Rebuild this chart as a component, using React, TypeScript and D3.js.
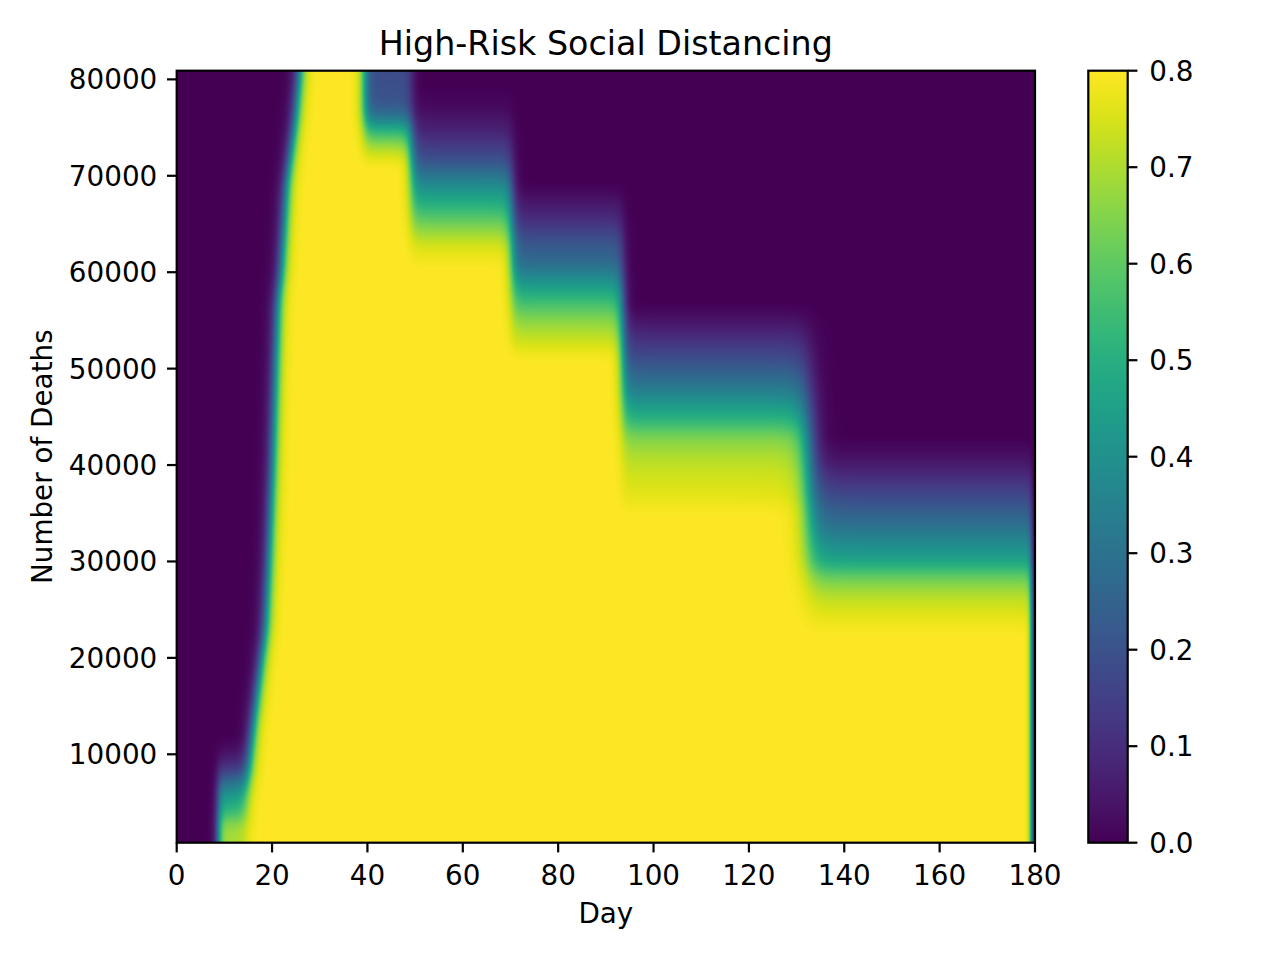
import { useMemo } from 'react'
import * as d3 from 'd3'

// axis ticks
const dayTicks = [0, 20, 40, 60, 80, 100, 120, 140, 160, 180]
const deathTicks = [10000, 20000, 30000, 40000, 50000, 60000, 70000, 80000]
const levelTicks = [0, 0.1, 0.2, 0.3, 0.4, 0.5, 0.6, 0.7, 0.8]

const dayDomain = [0, 180]
const deathDomain = [830, 80900]
const levelDomain = [0, 0.8]

// day at which distancing switches on, as a function of deaths threshold
const onsetDeaths = [800, 5000, 8000, 10000, 12500, 20000, 23000, 30000, 40000, 50000, 57000, 60000, 69000, 76000, 81000]
const onsetDays = [14.6, 14.6, 15.2, 15.5, 16.0, 17.9, 18.7, 19.4, 20.2, 20.8, 21.3, 22.0, 23.1, 25.0, 25.9]

// early partial distancing at low thresholds
const earlyStartDay = 8.7
const earlyDeaths = [800, 2500, 4000, 5400, 6800, 8300, 9800, 11500]
const earlyLevels = [0.7, 0.68, 0.54, 0.45, 0.33, 0.15, 0.05, 0]

// day where each relaxation step begins; last value is the end of the run
const stepDays = [39.3, 49.2, 70.3, 93.5, 132.5, 179.2]

// level vs deaths threshold inside each step
const step0Deaths = [800, 80900]
const step0Levels = [0.8, 0.8]
const step1Deaths = [71000, 72000, 73400, 75000, 76000, 77500, 81000]
const step1Levels = [0.8, 0.76, 0.66, 0.48, 0.32, 0.21, 0.18]
const step2Deaths = [60500, 62600, 64700, 67100, 68800, 71600, 74500, 77000, 79000]
const step2Levels = [0.8, 0.76, 0.65, 0.5, 0.4, 0.2, 0.08, 0.02, 0]
const step3Deaths = [51000, 52300, 54000, 55400, 57100, 58900, 60900, 63300, 65500, 67500, 69000]
const step3Levels = [0.8, 0.76, 0.7, 0.64, 0.54, 0.42, 0.28, 0.2, 0.1, 0.04, 0]
const step4Deaths = [35000, 36700, 39200, 41200, 43000, 44400, 45700, 47100, 48500, 50700, 53000, 54700, 56500]
const step4Levels = [0.8, 0.77, 0.74, 0.7, 0.64, 0.54, 0.46, 0.38, 0.3, 0.2, 0.11, 0.05, 0]
const step5Deaths = [22500, 24300, 26000, 27800, 28800, 30100, 31500, 33600, 35700, 37400, 38800, 40500, 42600]
const step5Levels = [0.8, 0.77, 0.73, 0.65, 0.58, 0.46, 0.4, 0.3, 0.22, 0.15, 0.1, 0.04, 0]

const W = 1280
const H = 960
const plot = { left: 176.7, right: 1035, top: 70.7, bottom: 842.7 }
const cbar = { left: 1088.3, right: 1127.7 }
const FONT = 'DejaVu Sans, sans-serif'
const tickSize = 27.8

const sigmoid = (t: number) => 1 / (1 + Math.exp(-t))

// box smoothing along rows, to soften the kinks between read-off points
function smooth(arr: Float32Array, r: number) {
  const out = new Float32Array(arr.length)
  for (let j = 0; j < arr.length; j++) {
    let s = 0
    let n = 0
    for (let k = j - r; k <= j + r; k++) {
      const kk = Math.max(0, Math.min(arr.length - 1, k))
      s += arr[kk]
      n++
    }
    out[j] = s / n
  }
  return out
}

export default function App() {
  const x = d3.scaleLinear().domain(dayDomain).range([plot.left, plot.right])
  const y = d3.scaleLinear().domain(deathDomain).range([plot.bottom, plot.top])
  const cy = d3.scaleLinear().domain(levelDomain).range([plot.bottom, plot.top])

  const heatmap = useMemo(() => {
    const w = Math.round(plot.right - plot.left)
    const h = Math.round(plot.bottom - plot.top)
    const canvas = document.createElement('canvas')
    canvas.width = w
    canvas.height = h
    const ctx = canvas.getContext('2d')!
    const img = ctx.createImageData(w, h)

    const lut = d3.range(256).map(k => d3.rgb(d3.interpolateViridis(k / 255)))
    const onset = d3.scaleLinear().domain(onsetDeaths).range(onsetDays).clamp(true)
    const early = d3.scaleLinear().domain(earlyDeaths).range(earlyLevels).clamp(true)
    const steps = [
      [step0Deaths, step0Levels],
      [step1Deaths, step1Levels],
      [step2Deaths, step2Levels],
      [step3Deaths, step3Levels],
      [step4Deaths, step4Levels],
      [step5Deaths, step5Levels]
    ].map(([d, l]) => d3.scaleLinear().domain(d).range(l).clamp(true))
    const edgeSoft = [0.6, 0.6, 0.6, 0.6, 1.2, 0.3]

    // per column step weights
    const colDay = new Float32Array(w)
    const colW = Array.from({ length: steps.length }, () => new Float32Array(w))
    const colEarly = new Float32Array(w)
    for (let i = 0; i < w; i++) {
      const day = x.invert(plot.left + i + 0.5)
      colDay[i] = day
      const c = stepDays.map((e, k) => sigmoid((day - e) / edgeSoft[k]))
      colW[0][i] = 1 - c[0]
      for (let b = 1; b < steps.length; b++) colW[b][i] = c[b - 1] - c[b]
      colEarly[i] = sigmoid((day - earlyStartDay) / 0.45)
    }

    // per row profiles
    const rowDeaths = Array.from({ length: h }, (_, j) => y.invert(plot.top + j + 0.5))
    const rowProf = steps.map(s => smooth(Float32Array.from(rowDeaths, d => s(d)), 8))
    const rowOnset = smooth(Float32Array.from(rowDeaths, d => onset(d)), 12)
    const rowEarly = smooth(Float32Array.from(rowDeaths, d => early(d)), 8)

    for (let j = 0; j < h; j++) {
      const on = rowOnset[j]
      const ev = rowEarly[j]
      for (let i = 0; i < w; i++) {
        const a = sigmoid((colDay[i] - on) / 0.7)
        let bv = 0
        for (let b = 0; b < rowProf.length; b++) bv += rowProf[b][j] * colW[b][i]
        const v = a * bv + Math.max(0, colEarly[i] - a) * ev
        const k = Math.max(0, Math.min(255, Math.round((v / 0.8) * 255)))
        const c = lut[k]
        const p = (j * w + i) * 4
        img.data[p] = c.r
        img.data[p + 1] = c.g
        img.data[p + 2] = c.b
        img.data[p + 3] = 255
      }
    }
    ctx.putImageData(img, 0, 0)
    return canvas.toDataURL()
  }, [])

  const gradStops = d3.range(0, 1.0001, 1 / 32)

  return (
    <svg
      width={W}
      height={H}
      style={{ position: 'absolute', left: 0, top: 0, background: '#fff' }}
      fontFamily={FONT}
    >
      <defs>
        <linearGradient id="viridis" x1="0" y1="1" x2="0" y2="0">
          {gradStops.map(t => (
            <stop key={t} offset={t} stopColor={d3.interpolateViridis(t)} />
          ))}
        </linearGradient>
      </defs>

      <image
        href={heatmap}
        x={plot.left}
        y={plot.top}
        width={plot.right - plot.left}
        height={plot.bottom - plot.top}
        preserveAspectRatio="none"
      />
      <rect
        x={plot.left}
        y={plot.top}
        width={plot.right - plot.left}
        height={plot.bottom - plot.top}
        fill="none"
        stroke="#000"
        strokeWidth={2.2}
      />

      {/* x axis */}
      {dayTicks.map(t => (
        <g key={t} transform={`translate(${x(t)},${plot.bottom})`}>
          <line y2={9.7} stroke="#000" strokeWidth={2.2} />
          <text y={42.3} textAnchor="middle" fontSize={tickSize}>{t}</text>
        </g>
      ))}
      <text x={(plot.left + plot.right) / 2} y={923} textAnchor="middle" fontSize={tickSize}>Day</text>

      {/* y axis */}
      {deathTicks.map(t => (
        <g key={t} transform={`translate(${plot.left},${y(t)})`}>
          <line x2={-9.7} stroke="#000" strokeWidth={2.2} />
          <text x={-19.4} dy="0.36em" textAnchor="end" fontSize={tickSize}>{t}</text>
        </g>
      ))}
      <text
        transform={`translate(52,${(plot.top + plot.bottom) / 2}) rotate(-90)`}
        textAnchor="middle"
        fontSize={tickSize}
      >
        Number of Deaths
      </text>

      <text x={(plot.left + plot.right) / 2} y={55} textAnchor="middle" fontSize={33.3}>
        High-Risk Social Distancing
      </text>

      {/* colorbar */}
      <rect
        x={cbar.left}
        y={plot.top}
        width={cbar.right - cbar.left}
        height={plot.bottom - plot.top}
        fill="url(#viridis)"
        stroke="#000"
        strokeWidth={2.2}
      />
      {levelTicks.map(t => (
        <g key={t} transform={`translate(${cbar.right},${cy(t)})`}>
          <line x2={9.7} stroke="#000" strokeWidth={2.2} />
          <text x={21.5} dy="0.36em" fontSize={tickSize}>{d3.format('.1f')(t)}</text>
        </g>
      ))}
    </svg>
  )
}
